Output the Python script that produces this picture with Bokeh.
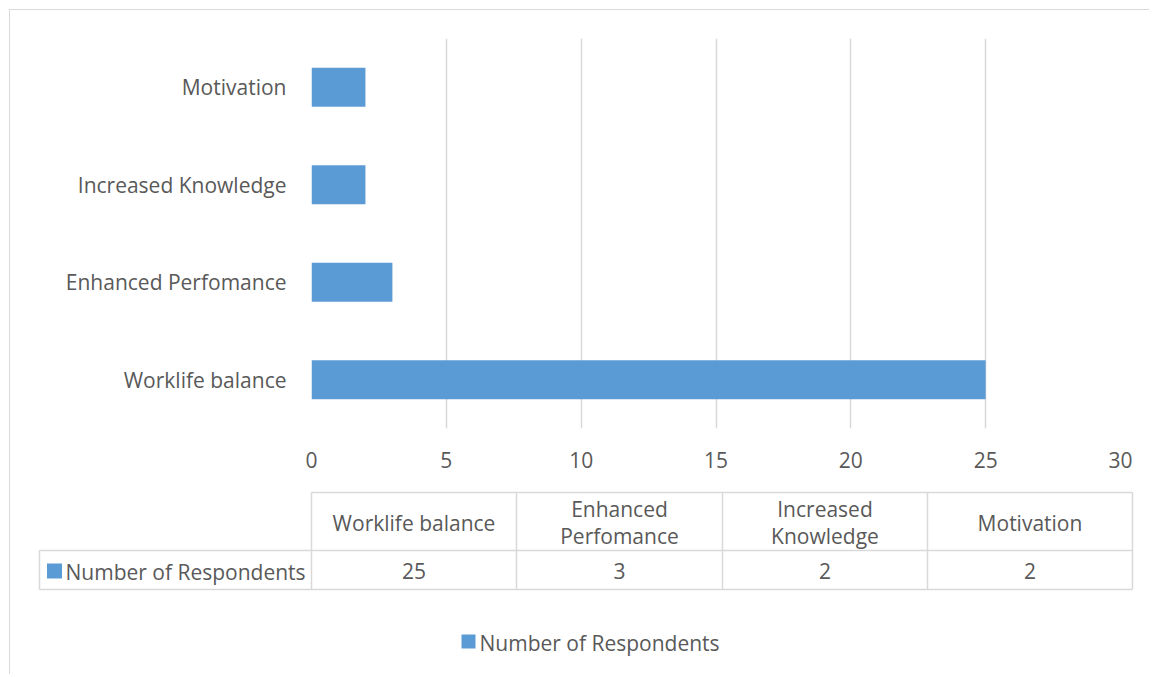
from bokeh.plotting import figure
from bokeh.models import Range1d, FactorRange, FixedTicker
from bokeh.embed import file_html
from bokeh.resources import INLINE
from bokeh.core.properties import value

# ---- data ----
categories = ["Worklife balance", "Enhanced Perfomance", "Increased Knowledge", "Motivation"]
respondents = [25, 3, 2, 2]
header_labels = ["Worklife balance", "Enhanced\nPerfomance", "Increased\nKnowledge", "Motivation"]
series_name = "Number of Respondents"
x_ticks = [0, 5, 10, 15, 20, 25, 30]

# ---- style ----
FONT = "Open Sans"
TXT = "#595959"
GRID = "#d9d9d9"
BAR = "#5b9bd5"
FS = "21px"
BORDER = "1px solid #d9d9d9"

W = 1140
H1 = 470
H2 = 195
X0 = 10   # page x of canvas left edge
Y2 = 480  # page y of table canvas top

# ---- bar chart ----
p1 = figure(width=W, height=H1,
            y_range=FactorRange(factors=categories, range_padding=0),
            x_range=Range1d(0, 30),
            output_backend="svg", toolbar_location=None,
            min_border_left=301, min_border_right=30,
            min_border_top=28, min_border_bottom=52,
            styles={"margin-left": "9px", "margin-top": "9px",
                    "border-left": BORDER, "border-top": BORDER})
p1.hbar(y=categories, left=0, right=respondents, height=0.4,
        fill_color=BAR, line_color=None)
p1.xaxis.ticker = FixedTicker(ticks=x_ticks)
for ax in (p1.xaxis, p1.yaxis):
    ax.axis_line_color = None
    ax.major_tick_line_color = None
    ax.minor_tick_line_color = None
    ax.major_label_text_font = FONT
    ax.major_label_text_font_size = FS
    ax.major_label_text_color = TXT
p1.xaxis.major_label_standoff = 17
p1.yaxis.major_label_standoff = 19
p1.ygrid.grid_line_color = None
p1.xgrid.grid_line_color = GRID
p1.xgrid.grid_line_width = 1.5
p1.outline_line_color = None

# ---- data table + legend ----
p2 = figure(width=W, height=H2,
            x_range=Range1d(X0, X0 + W), y_range=Range1d(Y2 + H2, Y2),
            min_border=0, x_axis_location=None, y_axis_location=None,
            output_backend="svg", toolbar_location=None,
            styles={"margin-left": "9px", "border-left": BORDER})
p2.grid.visible = False
p2.outline_line_color = None

col_edges = [311, 516, 722, 927, 1132]
label_left = 39
row_top, row_mid, row_bot = 493, 551, 590

x0 = [col_edges[0], label_left, label_left, label_left] + col_edges
x1 = [col_edges[-1], col_edges[-1], col_edges[-1], label_left] + col_edges
y0 = [row_top, row_mid, row_bot, row_mid] + [row_top] * len(col_edges)
y1 = [row_top, row_mid, row_bot, row_bot] + [row_bot] * len(col_edges)
p2.segment(x0=x0, y0=y0, x1=x1, y1=y1, line_color=GRID, line_width=1.5)

centers = [(a + b) / 2 for a, b in zip(col_edges[:-1], col_edges[1:])]
p2.text(x=centers, y=[(row_top + row_mid) / 2 + 1] * len(centers), text=header_labels,
        text_font=value(FONT), text_font_size=FS, text_color=TXT,
        text_align="center", text_baseline="middle", text_line_height=0.98)
p2.text(x=centers, y=[(row_mid + row_bot) / 2 + 1] * len(centers),
        text=[str(v) for v in respondents],
        text_font=value(FONT), text_font_size=FS, text_color=TXT,
        text_align="center", text_baseline="middle")

# row key
p2.scatter(x=[54], y=[571.5], marker="square", size=15, fill_color=BAR, line_color=None)
p2.text(x=[65], y=[572], text=[series_name], text_font=value(FONT), text_font_size=FS,
        text_color=TXT, text_align="left", text_baseline="middle")

# legend
p2.scatter(x=[468], y=[642], marker="square", size=14, fill_color=BAR, line_color=None)
p2.text(x=[479], y=[643], text=[series_name], text_font=value(FONT), text_font_size=FS,
        text_color=TXT, text_align="left", text_baseline="middle")

open("out.html", "w").write(file_html([p1, p2], INLINE))
